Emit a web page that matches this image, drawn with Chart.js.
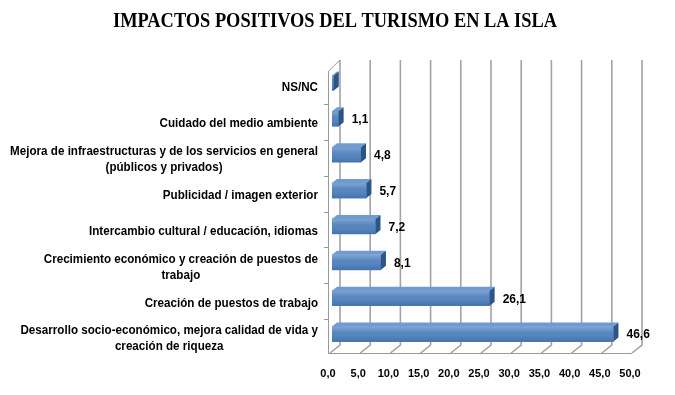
<!DOCTYPE html>
<html>
<head>
<meta charset="utf-8">
<script src="https://cdn.jsdelivr.net/npm/chart.js@4.4.0/dist/chart.umd.min.js"></script>
<style>
  html, body { margin: 0; padding: 0; background: #fff; }
</style>
</head>
<body>
<canvas id="impactos" width="675" height="395"></canvas>
<script>
const chartTitle = 'IMPACTOS POSITIVOS DEL TURISMO EN LA ISLA';
const categories = [
  ['NS/NC'],
  ['Cuidado del medio ambiente'],
  ['Mejora de infraestructuras y de los servicios en general', '(públicos y privados)'],
  ['Publicidad / imagen exterior'],
  ['Intercambio cultural / educación, idiomas'],
  ['Crecimiento económico y creación de puestos de', 'trabajo'],
  ['Creación de puestos de trabajo'],
  ['Desarrollo socio-económico, mejora calidad de vida y', 'creación de riqueza']
];
const values = [0.3, 1.1, 4.8, 5.7, 7.2, 8.1, 26.1, 46.6];
const valueLabels = ['', '1,1', '4,8', '5,7', '7,2', '8,1', '26,1', '46,6'];
const xTickLabels = ['0,0', '5,0', '10,0', '15,0', '20,0', '25,0', '30,0', '35,0', '40,0', '45,0', '50,0'];

const LABEL_FONT = 'bold 12px "Liberation Sans", Arial, sans-serif';
const SQUEEZE = 0.97;  // category text slightly condensed
const SX = 5, SY = 4;  // depth of the bars

// title drawn by hand so it is centred on the whole canvas
const titlePlugin = {
  id: 'titlePlugin',
  afterDraw(chart) {
    const ctx = chart.ctx;
    ctx.save();
    ctx.font = 'bold 20px "Liberation Serif", "Times New Roman", serif';
    ctx.fillStyle = '#000';
    ctx.textAlign = 'center';
    ctx.textBaseline = 'middle';
    const sx = 444 / ctx.measureText(chartTitle).width;
    ctx.translate(335, 22);
    ctx.scale(sx, 1);
    ctx.fillText(chartTitle, 0, 0);
    ctx.restore();
  }
};

// back wall, floor and left wall (fake 3d like the excel chart)
const walls = {
  id: 'walls',
  beforeDatasetsDraw(chart) {
    const { ctx, chartArea: a, scales: { x, y } } = chart;
    const backTop = a.top - 5, backBottom = a.bottom - 7, frontBottom = a.bottom + 1;
    ctx.save();
    ctx.strokeStyle = '#a3a3a3';
    ctx.lineWidth = 1.6;
    xTickLabels.forEach((t, i) => {
      const px = x.getPixelForValue(i * 5);
      ctx.beginPath();
      ctx.moveTo(px + 8, backTop);
      ctx.lineTo(px + 8, backBottom);
      ctx.lineTo(px - 2, frontBottom);
      ctx.stroke();
    });
    ctx.strokeStyle = '#999';
    ctx.lineWidth = 1;
    const x0 = x.getPixelForValue(0), x50 = x.getPixelForValue(50);
    ctx.beginPath();
    ctx.moveTo(x0 - 4, frontBottom + 0.5);
    ctx.lineTo(x50 - 2, frontBottom + 0.5);
    ctx.moveTo(x0 - 3.5, frontBottom);
    ctx.lineTo(x0 - 3.5, a.top + 6);
    ctx.lineTo(x0 + 8, backTop);
    ctx.stroke();
    for (let i = 1; i < categories.length; i++) {
      const py = Math.round((y.getPixelForValue(i - 1) + y.getPixelForValue(i)) / 2 + 3) + 0.5;
      ctx.beginPath();
      ctx.moveTo(x0 - 8, py);
      ctx.lineTo(x0 - 3.5, py);
      ctx.stroke();
    }
    ctx.restore();
  }
};

// top / side faces, shading and value labels
const barFaces = {
  id: 'barFaces',
  afterDatasetsDraw(chart) {
    const ctx = chart.ctx;
    const meta = chart.getDatasetMeta(0);
    ctx.save();
    meta.data.forEach((bar, i) => {
      const { x: xEnd, y: cy, base, height } = bar.getProps(['x', 'y', 'base', 'height'], true);
      const top = cy - height / 2, bottom = cy + height / 2;

      const g = ctx.createLinearGradient(0, top, 0, bottom);
      g.addColorStop(0, 'rgba(255,255,255,0.28)');
      g.addColorStop(0.4, 'rgba(255,255,255,0.05)');
      g.addColorStop(1, 'rgba(0,0,40,0.12)');
      ctx.fillStyle = g;
      ctx.fillRect(base, top, xEnd - base, height);

      ctx.fillStyle = '#6f9bd2';
      ctx.beginPath();
      ctx.moveTo(base, top);
      ctx.lineTo(base + SX, top - SY);
      ctx.lineTo(xEnd + SX, top - SY);
      ctx.lineTo(xEnd, top);
      ctx.closePath();
      ctx.fill();

      ctx.fillStyle = '#2c5587';
      ctx.beginPath();
      ctx.moveTo(xEnd, top);
      ctx.lineTo(xEnd + SX, top - SY);
      ctx.lineTo(xEnd + SX, bottom - SY);
      ctx.lineTo(xEnd, bottom);
      ctx.closePath();
      ctx.fill();

      if (valueLabels[i]) {
        ctx.fillStyle = '#000';
        ctx.font = LABEL_FONT;
        ctx.textAlign = 'left';
        ctx.textBaseline = 'middle';
        ctx.fillText(valueLabels[i], xEnd + 13, cy + 1);
      }
    });
    ctx.restore();
  }
};

// category names, right aligned block, lines centred on each other
const categoryLabels = {
  id: 'categoryLabels',
  afterDraw(chart) {
    const { ctx, chartArea: a, scales: { y } } = chart;
    const right = a.left - 14;
    ctx.save();
    ctx.font = LABEL_FONT;
    ctx.fillStyle = '#000';
    ctx.textAlign = 'center';
    ctx.textBaseline = 'middle';
    categories.forEach((lines, i) => {
      const cy = y.getPixelForValue(i) + 5;
      const w = Math.max(...lines.map(l => ctx.measureText(l).width)) * SQUEEZE;
      const cx = right - w / 2;
      lines.forEach((l, j) => {
        const ly = cy + (j - (lines.length - 1) / 2) * 16;
        ctx.save();
        ctx.translate(cx, ly);
        ctx.scale(SQUEEZE, 1);
        ctx.fillText(l, 0, 0);
        ctx.restore();
      });
    });
    ctx.restore();
  }
};

const ctx = document.getElementById('impactos').getContext('2d');
const chart = new Chart(ctx, {
  type: 'bar',
  data: {
    labels: categories,
    datasets: [{
      data: values,
      backgroundColor: '#4f81bd',
      borderWidth: 0,
      barThickness: 15
    }]
  },
  options: {
    indexAxis: 'y',
    responsive: false,
    animation: false,
    layout: { padding: { left: 0, right: 41, top: 65, bottom: 0 } },
    plugins: {
      legend: { display: false },
      tooltip: { enabled: false },
      title: { display: false }
    },
    scales: {
      x: {
        min: 0,
        max: 50,
        border: { display: false },
        grid: { display: false, drawTicks: false },
        afterFit: s => { s.height = 43; },
        ticks: {
          stepSize: 5,
          padding: 15,
          labelOffset: -4,
          color: '#000',
          font: { family: '"Liberation Sans", Arial, sans-serif', size: 11, weight: 'bold' },
          callback: (v, i) => xTickLabels[i]
        }
      },
      y: {
        border: { display: false },
        grid: { display: false, drawTicks: false },
        ticks: { display: false },
        afterFit: s => { s.width = 332; }
      }
    }
  },
  plugins: [walls, barFaces, categoryLabels, titlePlugin]
});
</script>
</body>
</html>
